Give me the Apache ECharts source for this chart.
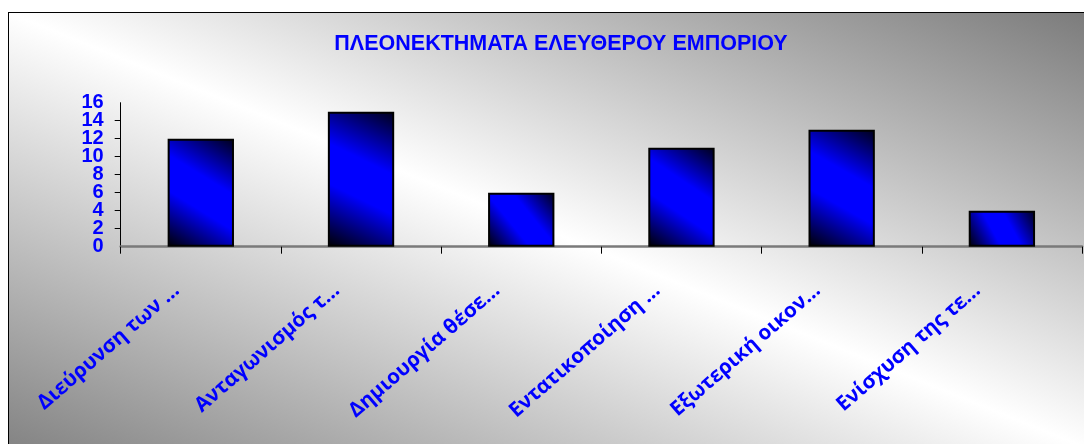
<!DOCTYPE html>
<html>
<head>
<meta charset="utf-8">
<script src="https://cdn.jsdelivr.net/npm/echarts@6/dist/echarts.min.js"></script>
<style>
  html, body { margin: 0; padding: 0; width: 1084px; height: 444px; overflow: hidden; background: #ffffff; }
  #frame { position: absolute; left: 8px; top: 12px; width: 1090px; height: 440px;
           border-left: 1.5px solid #000; border-top: 1.5px solid #000;
           background: linear-gradient(to bottom left, #7a7a7a 0%, #ffffff 50%, #828282 100%); }
  #chart { position: absolute; left: 0; top: 0; width: 1084px; height: 444px; }
</style>
</head>
<body>
<div id="frame"></div>
<div id="chart"></div>
<script>
const titleText = 'ΠΛΕΟΝΕΚΤΗΜΑΤΑ ΕΛΕΥΘΕΡΟΥ ΕΜΠΟΡΙΟΥ';
const categories = ['Διεύρυνση των …', 'Ανταγωνισμός τ…', 'Δημιουργία θέσε…', 'Εντατικοποίηση …', 'Εξωτερική οικον…', 'Ενίσχυση της τε…'];
const values = [12, 15, 6, 11, 13, 4];
const yMin = 0, yMax = 16, yStep = 2;

const yLabelStyle = {
  margin: 17,
  color: '#0000ff', fontFamily: 'Liberation Sans, Arial, sans-serif', fontWeight: 'bold', fontSize: 20,
  lineHeight: 8, verticalAlign: 'middle'
};

const chart = echarts.init(document.getElementById('chart'), null, { renderer: 'canvas' });
chart.setOption({
  backgroundColor: 'transparent',
  animation: false,
  title: {
    text: titleText,
    left: 556, top: 28, textAlign: 'center',
    textStyle: { color: '#0000ff', fontFamily: 'Liberation Sans, Arial, sans-serif', fontWeight: 'bold', fontSize: 21.5 }
  },
  grid: { left: 120.7, right: 2, top: 102.7, bottom: 197.3, containLabel: false, outerBoundsMode: 'none' },
  xAxis: {
    type: 'category',
    data: categories,
    boundaryGap: true,
    axisLine: { show: true, lineStyle: { color: '#7a7a7a', width: 2.5 } },
    axisTick: { show: true, interval: 0, length: 7, lineStyle: { color: '#000', width: 1 } },
    axisLabel: {
      interval: 0, rotate: 41, margin: 20,
      align: 'right', verticalAlign: 'middle',
      padding: [0, 32, 0, 0],
      color: '#0000ff', fontFamily: 'Open Sans, Noto Sans, sans-serif', fontWeight: 'bold', fontSize: 20.5
    },
    splitLine: { show: false }
  },
  yAxis: [{
    type: 'value',
    min: yMin, max: yMax, interval: yStep,
    axisLine: { show: true, lineStyle: { color: '#000', width: 1 } },
    axisTick: { show: true, length: 6, lineStyle: { color: '#000', width: 1 } },
    axisLabel: Object.assign({ showMinLabel: false, showMaxLabel: false }, yLabelStyle),
    splitLine: { show: false }
  }, {
    type: 'value', position: 'left', offset: 0,
    min: yMin, max: yMax, interval: yStep,
    axisLine: { show: false }, axisTick: { show: false }, splitLine: { show: false },
    axisLabel: Object.assign({
      showMinLabel: true, showMaxLabel: true,
      formatter: v => (v === yMin || v === yMax) ? String(v) : ''
    }, yLabelStyle)
  }],
  series: [{
    type: 'bar',
    yAxisIndex: 0,
    data: values,
    barWidth: '41.4%',
    itemStyle: {
      color: new echarts.graphic.LinearGradient(0, 1, 1, 0, [
        { offset: 0, color: '#000000' },
        { offset: 0.38, color: '#0000ff' },
        { offset: 0.62, color: '#0000ff' },
        { offset: 1, color: '#000018' }
      ]),
      borderColor: '#000',
      borderWidth: 2
    }
  }]
});
</script>
</body>
</html>
